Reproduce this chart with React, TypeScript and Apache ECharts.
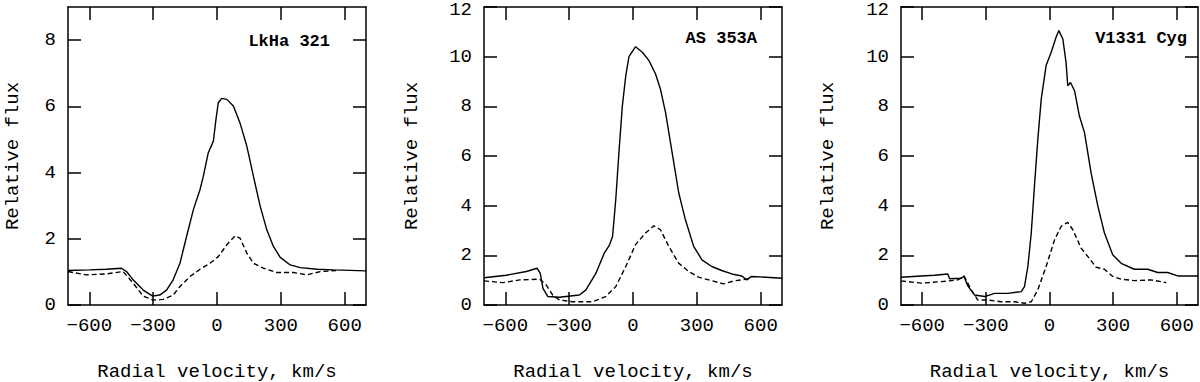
import React, { useEffect, useRef } from "react";
import * as echarts from "echarts";

// ---- Data (radial velocity km/s, relative flux) ----
const xTicks = [-600, -300, 0, 300, 600];
const yTicksLow = [0, 2, 4, 6, 8];
const yTicksHigh = [0, 2, 4, 6, 8, 10, 12];
const panelNames = ["LkHa 321", "AS 353A", "V1331 Cyg"];
const panelYMax = [9, 12, 12];

// LkHa 321
const lkSolidV = [-700, -600, -520, -449, -425, -394, -347, -302, -269, -237, -206, -174, -143, -111, -80, -64, -41, -17, -5, 6, 22, 46, 77, 108, 140, 171, 203, 234, 265, 297, 344, 391, 470, 548, 700];
const lkSolidF = [1.04, 1.06, 1.08, 1.11, 1.01, 0.76, 0.45, 0.27, 0.30, 0.45, 0.76, 1.26, 2.07, 2.88, 3.48, 3.89, 4.6, 4.95, 5.6, 6.11, 6.24, 6.21, 6.01, 5.5, 4.8, 3.89, 2.98, 2.27, 1.77, 1.44, 1.21, 1.13, 1.08, 1.06, 1.03];
const lkDashV = [-700, -614, -520, -441, -394, -347, -300, -253, -206, -174, -127, -80, -33, 6, 46, 85, 108, 140, 171, 218, 281, 360, 422, 485, 560];
const lkDashF = [1.01, 0.91, 0.94, 1.01, 0.66, 0.27, 0.15, 0.17, 0.30, 0.56, 0.86, 1.08, 1.26, 1.46, 1.82, 2.09, 2.02, 1.57, 1.26, 1.11, 0.98, 0.98, 0.91, 1.01, 1.04];

// AS 353A
const asSolidV = [-700, -595, -501, -451, -436, -423, -400, -346, -252, -221, -174, -135, -112, -96, -81, -65, -50, -34, -19, 12, 44, 75, 106, 129, 153, 184, 215, 246, 285, 324, 370, 417, 464, 511, 534, 557, 700];
const asSolidF = [1.10, 1.20, 1.35, 1.48, 1.28, 0.67, 0.34, 0.31, 0.40, 0.61, 1.28, 2.09, 2.39, 2.76, 4.25, 6.27, 8.02, 9.23, 10.0, 10.4, 10.18, 9.84, 9.3, 8.69, 7.75, 6.13, 4.51, 3.44, 2.36, 1.82, 1.55, 1.39, 1.25, 1.17, 1.01, 1.15, 1.08];
const asDashV = [-700, -610, -532, -439, -408, -377, -346, -283, -190, -128, -81, -34, 12, 59, 98, 129, 168, 215, 262, 308, 370, 425, 479, 534, 555];
const asDashF = [0.97, 0.90, 1.01, 1.04, 0.81, 0.40, 0.20, 0.13, 0.13, 0.34, 0.74, 1.55, 2.43, 2.90, 3.19, 3.03, 2.36, 1.68, 1.35, 1.12, 0.98, 0.85, 0.98, 1.04, 1.06];

// V1331 Cyg
const vSolidV = [-700, -605, -542, -479, -471, -416, -403, -385, -353, -306, -259, -196, -133, -118, -102, -86, -71, -55, -39, -16, 8, 31, 44, 63, 78, 86, 99, 118, 141, 165, 196, 228, 259, 298, 338, 400, 463, 510, 557, 604, 700];
const vSolidF = [1.12, 1.17, 1.20, 1.25, 1.06, 1.08, 1.15, 0.77, 0.40, 0.34, 0.47, 0.47, 0.54, 0.74, 1.55, 2.90, 4.78, 6.67, 8.29, 9.64, 10.18, 10.78, 11.05, 10.71, 9.77, 8.83, 8.96, 8.63, 7.61, 6.94, 5.32, 3.98, 2.90, 2.02, 1.68, 1.44, 1.44, 1.31, 1.31, 1.17, 1.17];
const vDashV = [-700, -605, -510, -432, -403, -369, -338, -290, -228, -165, -118, -86, -55, -16, 24, 55, 86, 110, 149, 181, 220, 259, 298, 338, 400, 479, 550];
const vDashF = [0.97, 0.88, 0.94, 1.01, 1.17, 0.61, 0.20, 0.20, 0.13, 0.13, 0.07, 0.13, 0.61, 1.55, 2.63, 3.17, 3.33, 3.03, 2.29, 1.95, 1.52, 1.44, 1.15, 1.04, 0.98, 1.01, 0.90];

const solidSets = [
  [lkSolidV, lkSolidF],
  [asSolidV, asSolidF],
  [vSolidV, vSolidF],
];
const dashSets = [
  [lkDashV, lkDashF],
  [asDashV, asDashF],
  [vDashV, vDashF],
];

const pair = (xs: number[], ys: number[]) => xs.map((x, i) => [x, ys[i]]);

const FONT = "Liberation Mono";
const grids = [
  { left: 68, top: 7, width: 298, height: 298, outerBoundsMode: "none", containLabel: false },
  { left: 484, top: 7, width: 298, height: 298, outerBoundsMode: "none", containLabel: false },
  { left: 901, top: 7, width: 297, height: 298, outerBoundsMode: "none", containLabel: false },
];
const yNameGaps = [46, 63, 64];
const titlePos = [
  [330, 41],
  [757, 38],
  [1187, 38],
];

export default function App() {
  const ref = useRef<HTMLDivElement>(null);
  useEffect(() => {
    if (!ref.current) return;
    const chart = echarts.init(ref.current, undefined, { renderer: "svg" });
    const lineStyle = { color: "#000", width: 1.5 };
    const xAxis: any[] = [];
    const yAxis: any[] = [];
    const series: any[] = [];
    grids.forEach((_, i) => {
      const yTicks = panelYMax[i] === 9 ? yTicksLow : yTicksHigh;
      const yMax = panelYMax[i];
      const baseX = {
        type: "value",
        gridIndex: i,
        min: -700,
        max: 700,
        axisLine: { show: true, onZero: false, lineStyle },
        axisTick: { show: true, inside: true, length: 13, lineStyle, customValues: xTicks },
        splitLine: { show: false },
      };
      xAxis.push({
        ...baseX,
        position: "bottom",
        name: "Radial velocity, km/s",
        nameLocation: "middle",
        nameGap: 57,
        nameTextStyle: { fontFamily: FONT, fontSize: 19, color: "#000" },
        axisLabel: {
          show: true,
          customValues: xTicks,
          margin: 11,
          fontFamily: FONT,
          fontSize: 19,
          color: "#000",
          formatter: (v: number) => (v < 0 ? "\u2212" + Math.abs(v) : String(v)),
        },
      });
      xAxis.push({ ...baseX, position: "top", axisLabel: { show: false } });
      const baseY = {
        type: "value",
        gridIndex: i,
        min: 0,
        max: yMax,
        axisLine: { show: true, onZero: false, lineStyle },
        axisTick: { show: true, inside: true, length: 13, lineStyle, customValues: yTicks },
        splitLine: { show: false },
      };
      yAxis.push({
        ...baseY,
        position: "left",
        name: "Relative flux",
        nameLocation: "middle",
        nameGap: yNameGaps[i],
        nameTextStyle: { fontFamily: FONT, fontSize: 19, color: "#000" },
        axisLabel: {
          show: true,
          customValues: yTicks,
          margin: 12,
          fontFamily: FONT,
          fontSize: 19,
          color: "#000",
          formatter: (v: number) => (v === yMax ? "{top|" + v + "}" : String(v)),
          rich: { top: { fontFamily: FONT, fontSize: 19, color: "#000", padding: [6, 0, 0, 0] } },
        },
      });
      yAxis.push({ ...baseY, position: "right", axisLabel: { show: false } });
      series.push({
        type: "line",
        xAxisIndex: 2 * i,
        yAxisIndex: 2 * i,
        data: pair(solidSets[i][0], solidSets[i][1]),
        showSymbol: false,
        lineStyle: { color: "#000", width: 1.4, type: "solid" },
      });
      series.push({
        type: "line",
        xAxisIndex: 2 * i,
        yAxisIndex: 2 * i,
        data: pair(dashSets[i][0], dashSets[i][1]),
        showSymbol: false,
        lineStyle: { color: "#000", width: 1.4, type: [5, 3] },
      });
    });
    chart.setOption({
      animation: false,
      backgroundColor: "#fff",
      grid: grids,
      xAxis,
      yAxis,
      series,
      graphic: panelNames.map((n, i) => ({
        type: "text",
        x: titlePos[i][0],
        y: titlePos[i][1],
        style: {
          text: n,
          fill: "#000",
          font: "bold 17px 'Liberation Mono'",
          align: "right",
          verticalAlign: "middle",
        },
      })),
    });
    return () => chart.dispose();
  }, []);
  return (
    <div
      ref={ref}
      style={{ position: "absolute", left: 0, top: 0, width: 1200, height: 382, background: "#fff" }}
    />
  );
}
